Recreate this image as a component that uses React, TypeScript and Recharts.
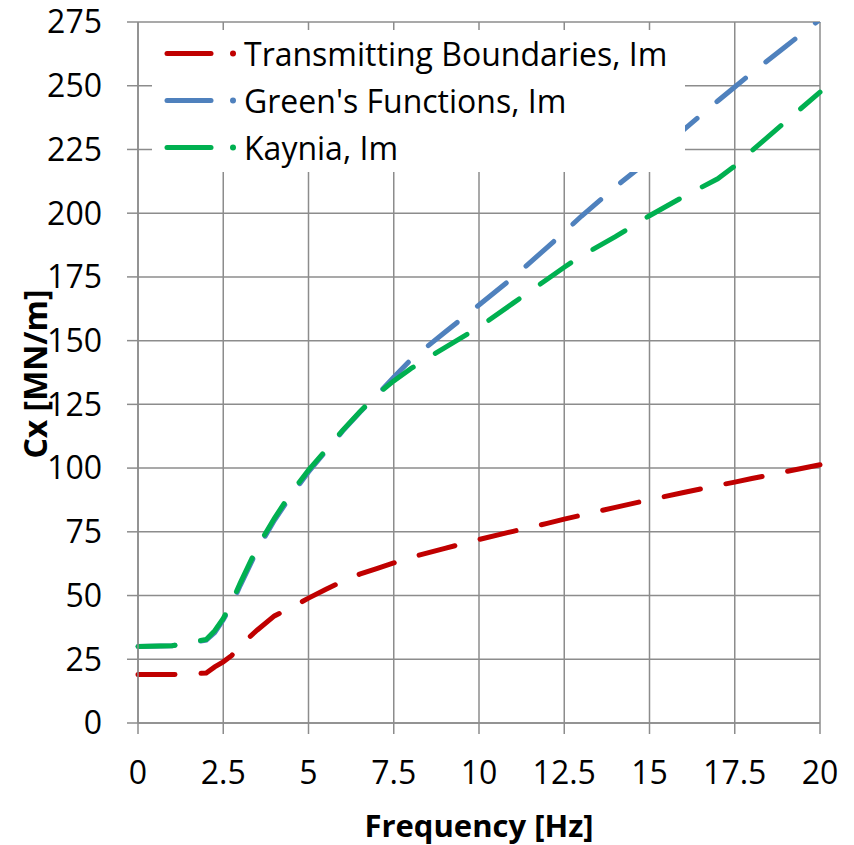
import { CartesianGrid, Line, LineChart, XAxis, YAxis } from "recharts"

const freq = [0, 1, 2, 2.25, 2.5, 2.75, 3, 3.5, 4, 4.5, 5, 5.5, 6, 6.5, 7, 7.5, 8, 9, 10, 11, 12, 12.5, 13, 14, 15, 16, 17, 17.5, 18, 19, 20]
const transmitting = [19, 19, 19.6, 22, 24, 26.5, 30.5, 36.5, 42, 45.3, 49, 52.4, 55.6, 58.4, 60.6, 62.8, 65, 68.5, 72, 75.2, 78.3, 80, 81.5, 84.6, 87.6, 90.4, 93.2, 94.5, 95.9, 98.6, 101.3]
const greens = [30, 30.3, 32.5, 35.5, 40.5, 46.5, 54, 68, 79.5, 89.5, 98.5, 106.5, 114.5, 121.8, 128.6, 135.6, 142.5, 153.3, 164, 174.8, 186.6, 192.6, 198.8, 210.3, 221, 232.7, 244, 249.5, 255, 265.5, 276]
const kaynia = [30, 30.3, 32.8, 36.2, 41, 47.5, 55, 69, 80.3, 90.5, 99.2, 106.9, 114.8, 122, 128.8, 134.2, 139, 147.3, 155.3, 164.7, 174.1, 178.8, 183.2, 190.8, 199, 206.5, 213.5, 218.5, 224.5, 236, 247.5]

const xTicks = [0, 2.5, 5, 7.5, 10, 12.5, 15, 17.5, 20]
const yTicks = [0, 25, 50, 75, 100, 125, 150, 175, 200, 225, 250, 275]

const series = [
  { key: "tb", name: "Transmitting Boundaries, Im", color: "#C00000" },
  { key: "gf", name: "Green's Functions, Im", color: "#4F81BD" },
  { key: "ka", name: "Kaynia, Im", color: "#00B050" },
]

const data = freq.map((f, i) => ({ f, tb: transmitting[i], gf: greens[i], ka: kaynia[i] }))

const FONT = "'Open Sans', sans-serif"
const GRID = "#8c8c8c"

export default function App() {
  return (
    <div style={{ position: "absolute", left: 0, top: 0, width: 854, height: 845, background: "#fff" }}>
      <LineChart width={854} height={845} data={data} margin={{ top: 22, right: 34, left: 0, bottom: 0 }}>
        <CartesianGrid stroke={GRID} strokeWidth={1.5} horizontalValues={yTicks} verticalValues={xTicks} />
        <XAxis
          dataKey="f"
          type="number"
          domain={[0, 20]}
          ticks={xTicks}
          height={122}
          stroke={GRID}
          strokeWidth={1.5}
          tickSize={11}
          tickMargin={27}
          tick={{ fill: "#000", fontSize: 32, fontFamily: FONT }}
          label={{
            value: "Frequency [Hz]",
            position: "insideBottom",
            offset: 8,
            style: { fill: "#000", fontSize: 31, fontWeight: 700, fontFamily: FONT },
          }}
        />
        <YAxis
          type="number"
          domain={[0, 275]}
          allowDataOverflow
          ticks={yTicks}
          width={138}
          stroke={GRID}
          strokeWidth={1.5}
          tickSize={11}
          tickMargin={25}
          tick={{ fill: "#000", fontSize: 32, fontFamily: FONT }}
          label={{
            content: () => (
              <text
                x={47}
                y={374}
                transform="rotate(-90 47 374)"
                textAnchor="middle"
                fill="#000"
                fontSize={32}
                fontWeight={700}
                fontFamily={FONT}
              >
                Cx [MN/m]
              </text>
            ),
          }}
        />
        {series.map((s) => (
          <Line
            key={s.key}
            type="linear"
            dataKey={s.key}
            name={s.name}
            stroke={s.color}
            strokeWidth={5}
            strokeDasharray="37 26"
            strokeLinecap="round"
            dot={false}
            activeDot={false}
            isAnimationActive={false}
          />
        ))}
      </LineChart>
      <div
        style={{
          position: "absolute",
          left: 152,
          top: 30,
          width: 533,
          height: 142,
          background: "#fff",
          fontFamily: FONT,
          fontSize: 32,
        }}
      >
        {series.map((s) => (
          <div key={s.key} style={{ display: "flex", alignItems: "center", height: 47 }}>
            <svg width={92} height={47} style={{ flex: "none" }}>
              <line x1={15} y1={23.5} x2={59} y2={23.5} stroke={s.color} strokeWidth={5} strokeLinecap="round" />
              <circle cx={81} cy={23.5} r={3} fill={s.color} />
            </svg>
            <span style={{ lineHeight: "47px", whiteSpace: "nowrap" }}>{s.name}</span>
          </div>
        ))}
      </div>
    </div>
  )
}
